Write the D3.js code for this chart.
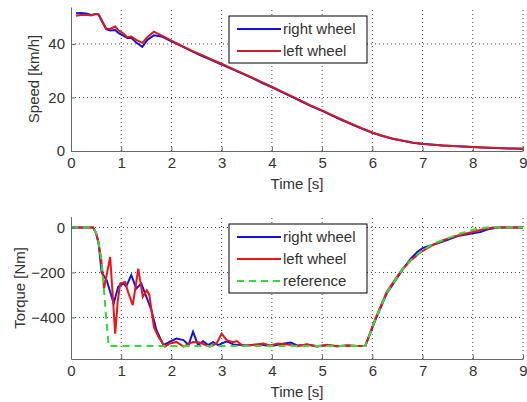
<!DOCTYPE html>
<html>
<head>
<meta charset="utf-8">
<script src="https://cdn.jsdelivr.net/npm/d3@7"></script>
<style>
  body { margin: 0; background: #fff; }
  text { font-family: "Liberation Sans", Arial, sans-serif; fill: #333; }
</style>
</head>
<body>
<div id="chart"></div>
<script>
// speed data (top panel)
var speedTime = [0.1,0.2,0.3,0.4,0.5,0.55,0.6,0.7,0.78,0.88,0.95,1.05,1.12,1.2,1.3,1.42,1.52,1.65,1.8,2.0,2.2,2.4,2.6,2.8,3.0,3.2,3.4,3.6,3.8,4.0,4.2,4.4,4.6,4.8,5.0,5.2,5.4,5.6,5.8,6.0,6.2,6.4,6.6,6.8,7.0,7.2,7.4,7.6,7.8,8.0,8.2,8.4,8.6,8.8,9.0];
var speedRight = [51.5,51.6,51.4,50.8,51.2,51.0,49,45.5,45,45.2,44,43,42.2,42.3,40.5,38.9,41.5,43.2,42.8,41,39.2,37.3,35.6,34,32.3,30.7,29,27.3,25.5,23.8,22,20.2,18.4,16.6,15,13.2,11.5,9.9,8.3,6.8,5.6,4.6,3.8,3.1,2.6,2.3,2.1,1.9,1.7,1.5,1.3,1.1,1.0,0.9,0.8];
var speedLeft = [50.5,50.8,50.9,50.6,51.3,51.0,49.3,45.8,45.6,46.5,45,43.8,42.5,42.8,41.5,40.4,42.5,44.6,43.2,41.2,39.4,37.5,35.9,34.2,32.6,30.9,29.2,27.5,25.7,24,22.2,20.4,18.6,16.8,15.2,13.4,11.7,10,8.4,6.9,5.7,4.7,3.9,3.2,2.7,2.4,2.1,1.9,1.7,1.5,1.3,1.2,1.0,0.9,0.8];

// torque data (bottom panel)
var refTime = [0,0.44,0.5,0.55,0.6,0.65,0.7,0.75,5.86,6.06,6.29,6.59,6.76,6.96,7.22,7.49,7.75,8.02,8.28,9];
var refTorque = [0,0,-25,-70,-140,-260,-400,-527,-527,-410,-290,-190,-146,-108,-71,-49,-27,-9,0,0];
var rightTime = [0,0.44,0.5,0.55,0.61,0.71,0.85,0.94,1.04,1.1,1.2,1.3,1.4,1.5,1.6,1.7,1.84,1.97,2.1,2.24,2.34,2.43,2.53,2.63,2.73,2.83,2.93,3.1,3.23,3.5,3.76,3.96,4.12,4.25,4.38,4.5,4.7,4.9,5.1,5.3,5.5,5.7,5.86,6.06,6.29,6.59,6.76,6.9,7.0,7.1,7.3,7.5,7.7,7.9,8.0,8.15,8.3,8.5,9];
var rightTorque = [0,0,-25,-70,-200,-234,-338,-264,-249,-262,-212,-271,-249,-308,-367,-456,-523,-508,-494,-501,-523,-464,-523,-506,-523,-510,-523,-506,-520,-525,-520,-528,-522,-516,-512,-525,-522,-527,-524,-528,-525,-527,-527,-412,-292,-192,-140,-108,-92,-84,-70,-55,-38,-30,-26,-20,-8,0,0];
var leftTime = [0,0.44,0.5,0.55,0.6,0.66,0.72,0.78,0.83,0.88,0.93,0.98,1.08,1.14,1.23,1.34,1.43,1.51,1.56,1.65,1.74,1.87,1.97,2.1,2.24,2.43,2.56,2.76,2.9,3.0,3.1,3.23,3.3,3.43,3.63,3.83,3.96,4.12,4.3,4.5,4.7,4.9,5.1,5.3,5.5,5.7,5.86,6.06,6.29,6.59,6.76,6.96,7.2,7.4,7.6,7.8,8.0,8.2,8.4,9];
var leftTorque = [0,0,-25,-70,-140,-271,-200,-131,-300,-472,-330,-249,-242,-290,-345,-183,-308,-279,-300,-442,-486,-530,-516,-509,-530,-509,-512,-530,-516,-472,-501,-510,-505,-527,-522,-516,-525,-516,-520,-528,-520,-530,-522,-528,-525,-527,-527,-405,-285,-188,-148,-110,-78,-58,-42,-30,-20,-8,0,0];

var xTicks = [0,1,2,3,4,5,6,7,8,9];
var speedTicks = [0,20,40];
var torqueTicks = [-400,-200,0];

var W = 527, H = 402;
var svg = d3.select("#chart").append("svg")
  .attr("width", W).attr("height", H);

var x = d3.scaleLinear().domain([0, 9]).range([71, 523]);
var ySpeed = d3.scaleLinear().domain([0, 53.8]).range([151, 7]);
var yTorque = d3.scaleLinear().domain([-585, 48]).range([359, 216.7]);

function zip(t, v) { return t.map(function (d, i) { return [d, v[i]]; }); }

function panel(y, yTicks, ylabel, ylabelX, series, legendTop) {
  var g = svg.append("g");
  var y0 = y.range()[0], y1 = y.range()[1];

  // grid
  g.selectAll(".vg").data(xTicks.slice(1)).enter().append("line")
    .attr("x1", function (d) { return x(d); }).attr("x2", function (d) { return x(d); })
    .attr("y1", y0).attr("y2", y1)
    .attr("stroke", "#444").attr("stroke-dasharray", "1,3");
  g.selectAll(".hg").data(yTicks.filter(function (d) { return y(d) < y0 - 1; })).enter().append("line")
    .attr("x1", x(0)).attr("x2", x(9))
    .attr("y1", function (d) { return y(d); }).attr("y2", function (d) { return y(d); })
    .attr("stroke", "#444").attr("stroke-dasharray", "1,3");

  // data lines
  var line = d3.line().x(function (d) { return x(d[0]); }).y(function (d) { return y(d[1]); });
  series.forEach(function (s) {
    g.append("path").datum(zip(s.t, s.v))
      .attr("d", line).attr("fill", "none")
      .attr("stroke", s.color).attr("stroke-width", 2)
      .attr("stroke-dasharray", s.dash || null);
  });

  // axes
  var ax = g.append("g").attr("transform", "translate(0," + y0 + ")")
    .call(d3.axisBottom(x).tickValues(xTicks).tickFormat(d3.format("d"))
      .tickSizeInner(-4).tickSizeOuter(0).tickPadding(6));
  var ay = g.append("g").attr("transform", "translate(" + x(0) + ",0)")
    .call(d3.axisLeft(y).tickValues(yTicks).tickFormat(d3.format("d"))
      .tickSizeInner(-4).tickSizeOuter(0).tickPadding(6));
  [ax, ay].forEach(function (a) {
    a.select(".domain").attr("stroke", "#666");
    a.selectAll(".tick line").attr("stroke", "#666");
    a.selectAll("text").style("font-size", "15px").attr("fill", "#333")
      .style("font-family", "'Liberation Sans', Arial, sans-serif");
  });

  g.append("text").attr("x", 297).attr("y", y0 + 38)
    .attr("text-anchor", "middle").style("font-size", "15px").text("Time [s]");
  g.append("text")
    .attr("transform", "translate(" + ylabelX + "," + ((y0 + y1) / 2) + ")rotate(-90)")
    .attr("text-anchor", "middle").attr("dy", "0.35em")
    .style("font-size", "15px").text(ylabel);

  // legend
  var rowH = 22;
  var lg = g.append("g");
  lg.append("rect").attr("x", 229).attr("y", legendTop)
    .attr("width", 138).attr("height", series.length * rowH + 3)
    .attr("fill", "#fff").attr("stroke", "#000");
  series.forEach(function (s, i) {
    var cy = legendTop + 13 + i * rowH;
    lg.append("line").attr("x1", 237).attr("x2", 281).attr("y1", cy).attr("y2", cy)
      .attr("stroke", s.color).attr("stroke-width", 2)
      .attr("stroke-dasharray", s.dash || null);
    lg.append("text").attr("x", 283).attr("y", cy).attr("dy", "0.35em")
      .style("font-size", "15px").text(s.name);
  });
}

panel(ySpeed, speedTicks, "Speed [km/h]", 34, [
  { name: "right wheel", t: speedTime, v: speedRight, color: "#1515d8" },
  { name: "left wheel", t: speedTime, v: speedLeft, color: "#d01c24" }
], 16);

panel(yTorque, torqueTicks, "Torque [Nm]", 20, [
  { name: "right wheel", t: rightTime, v: rightTorque, color: "#1515d8" },
  { name: "left wheel", t: leftTime, v: leftTorque, color: "#f01414" },
  { name: "reference", t: refTime, v: refTorque, color: "#33dd33", dash: "7,5" }
], 224);
</script>
</body>
</html>
